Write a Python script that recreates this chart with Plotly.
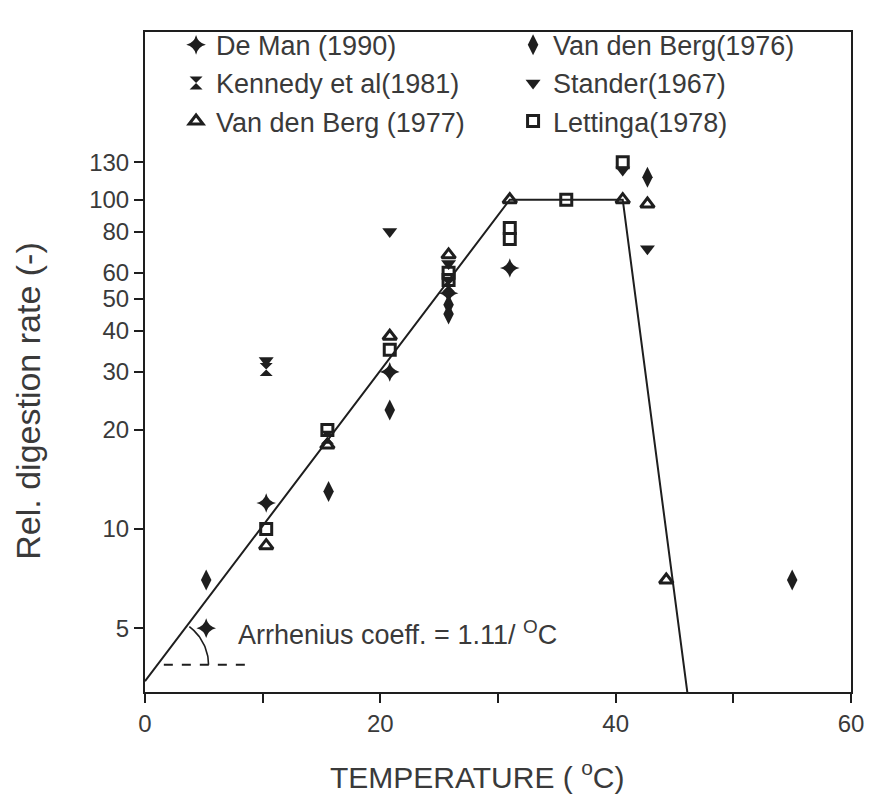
import numpy as np
import plotly.graph_objects as go

# ---- data ----
deman_x = [5.2, 10.3, 20.8, 25.8, 31.0]
deman_y = [5.0, 12.0, 30.0, 52.0, 62.0]

vdb76_x = [5.2, 15.6, 20.8, 25.8, 25.8, 42.7, 55.0]
vdb76_y = [7.0, 13.0, 23.0, 48.0, 45.0, 117.0, 7.0]

kennedy_x = [10.3, 15.5, 25.8]
kennedy_y = [30.5, 19.0, 55.0]

stander_x = [10.3, 20.8, 25.8, 40.6, 42.7]
stander_y = [32.5, 80.0, 64.0, 123.0, 71.0]

vdb77_x = [10.3, 15.5, 20.8, 25.8, 31.0, 40.6, 42.7, 44.3]
vdb77_y = [8.9, 18.0, 38.5, 68.0, 100.0, 100.0, 97.0, 7.0]

lettinga_x = [10.3, 15.5, 20.8, 25.8, 25.8, 31.0, 31.0, 35.8, 40.6]
lettinga_y = [10.0, 20.0, 35.0, 60.0, 57.0, 82.0, 76.0, 100.0, 130.0]

model_x = [0.0, 31.0, 40.6, 46.3]
model_y = [3.45, 100.0, 100.0, 2.8]

dash_x = [1.6, 8.8]
dash_y = [3.87, 3.87]

x_ticks = [0, 10, 20, 30, 40, 50, 60]
x_ticktext = ["0", "", "20", "", "40", "", "60"]
y_ticks = [5, 10, 20, 30, 40, 50, 60, 80, 100, 130]

INK = "#1e1e1e"
TXT = "#3a3a3a"
FONT = "Liberation Sans, Arial, sans-serif"

fig = go.Figure()

# model line
fig.add_trace(go.Scatter(x=model_x, y=model_y, mode="lines",
                         line=dict(color=INK, width=2), showlegend=False,
                         hoverinfo="skip"))
# dashed reference
fig.add_trace(go.Scatter(x=dash_x, y=dash_y, mode="lines",
                         line=dict(color=INK, width=2, dash="dash"),
                         showlegend=False, hoverinfo="skip"))
# arc for the angle (ellipse in x / log-y space)
cx, cy = 1.3, np.log10(3.87)
t = np.linspace(0, np.deg2rad(53), 30)
arc_x = cx + 4.1 * np.cos(t)
arc_y = 10 ** (cy + 0.145 * np.sin(t))
fig.add_trace(go.Scatter(x=arc_x, y=arc_y, mode="lines",
                         line=dict(color=INK, width=1.6), showlegend=False,
                         hoverinfo="skip"))

def pts(name, xs, ys, symbol, size, lw=0):
    fig.add_trace(go.Scatter(
        x=xs, y=ys, mode="markers", name=name,
        marker=dict(symbol=symbol, size=size, color=INK,
                    line=dict(color=INK, width=lw))))

pts("De Man (1990)", deman_x, deman_y, "star-diamond", 14)
pts("Van den Berg(1976)", vdb76_x, vdb76_y, "diamond-tall", 15)
pts("Kennedy et al(1981)", kennedy_x, kennedy_y, "hourglass", 13)
pts("Stander(1967)", stander_x, stander_y, "triangle-down", 13)
pts("Van den Berg (1977)", vdb77_x, vdb77_y, "triangle-up-open", 12, 3)
pts("Lettinga(1978)", lettinga_x, lettinga_y, "square-open", 11, 3)

fig.add_annotation(x=7.7, y=np.log10(4.84), xref="x", yref="y",
                   text="Arrhenius coeff. = 1.11/ <sup>O</sup>C",
                   showarrow=False, xanchor="left", yanchor="middle",
                   font=dict(family=FONT, size=27, color=TXT))

# axis titles (placed as in the reference, slightly off-centre)
fig.add_annotation(x=0.470, y=-0.126, xref="paper", yref="paper",
                   text="TEMPERATURE ( <sup>o</sup>C)", showarrow=False,
                   xanchor="center", yanchor="middle",
                   font=dict(family=FONT, size=30, color=TXT))
fig.add_annotation(x=-0.166, y=0.441, xref="paper", yref="paper",
                   text="Rel. digestion rate (-)", showarrow=False,
                   textangle=-90, xanchor="center", yanchor="middle",
                   font=dict(family=FONT, size=34, color=TXT))

fig.update_layout(
    width=885, height=795,
    margin=dict(l=137, r=42, t=24, b=111),
    paper_bgcolor="white", plot_bgcolor="white",
    font=dict(family=FONT, size=24, color=TXT),
    legend=dict(orientation="h", x=0.044, y=1.017, xanchor="left",
                yanchor="top", entrywidth=292, entrywidthmode="pixels",
                font=dict(family=FONT, size=27, color=TXT),
                bgcolor="rgba(0,0,0,0)"),
    xaxis=dict(range=[0, 60], tickvals=x_ticks, ticktext=x_ticktext,
               ticks="outside", ticklen=9, tickwidth=2, tickcolor=INK,
               showline=True, linecolor=INK, linewidth=2, mirror=True,
               showgrid=False, zeroline=False,
               tickfont=dict(size=24, color=TXT)),
    yaxis=dict(type="log", range=[np.log10(3.2), np.log10(323)],
               tickvals=y_ticks, ticktext=[str(v) for v in y_ticks],
               ticks="outside", ticklen=9, tickwidth=2, tickcolor=INK,
               showline=True, linecolor=INK, linewidth=2, mirror=True,
               showgrid=False, zeroline=False,
               tickfont=dict(size=24, color=TXT)),
)

fig.write_html("out.html")
